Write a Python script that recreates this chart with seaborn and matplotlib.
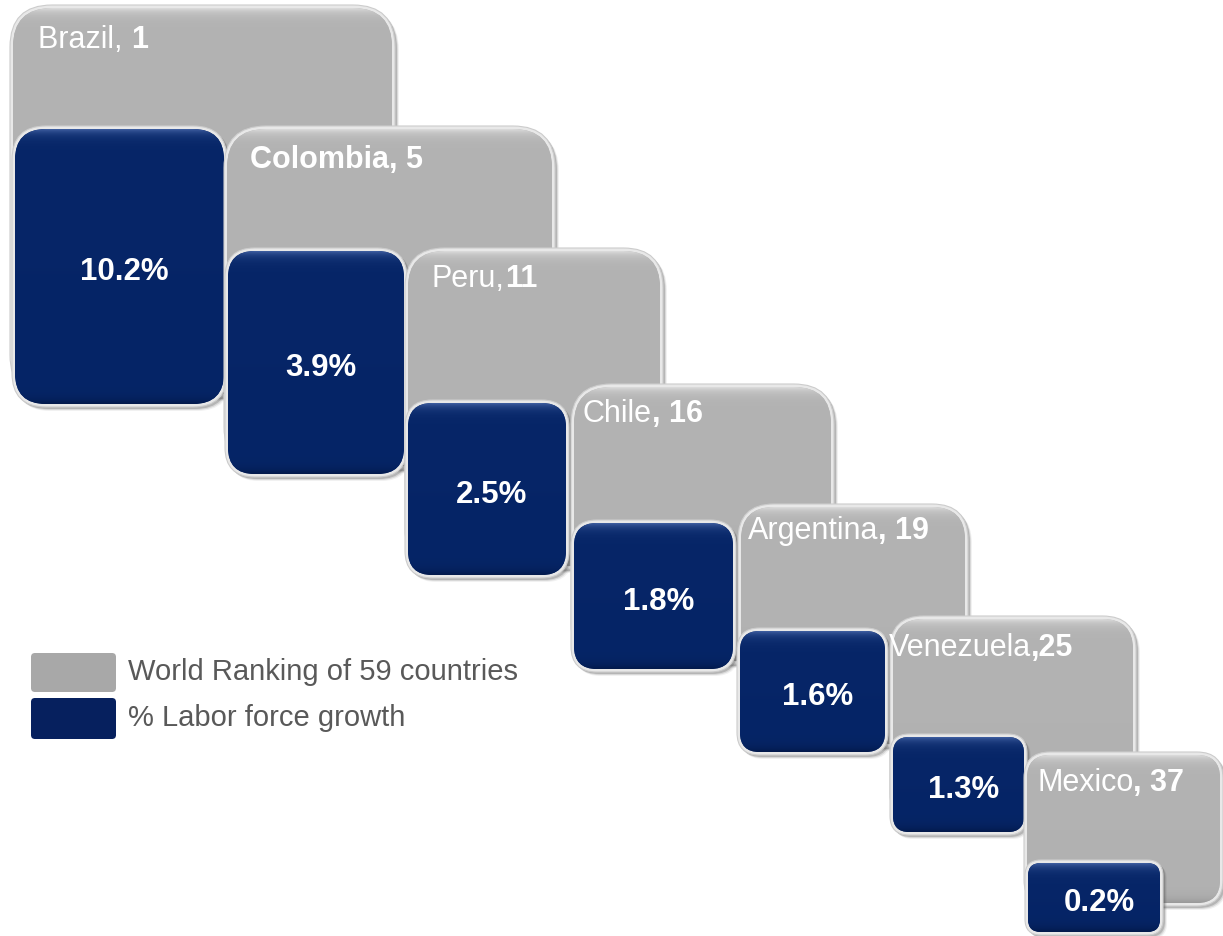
import numpy as np
import matplotlib
matplotlib.use("Agg")
import matplotlib.pyplot as plt
from matplotlib.patches import FancyBboxPatch
from matplotlib.colors import to_rgb
import seaborn as sns

# ---- data -------------------------------------------------------------
countries = ["Brazil", "Colombia", "Peru", "Chile", "Argentina", "Venezuela", "Mexico"]
world_rank = [1, 5, 11, 16, 19, 25, 37]
labor_growth = [10.2, 3.9, 2.5, 1.8, 1.6, 1.3, 0.2]

legend_labels = ["World Ranking of 59 countries", "% Labor force growth"]

# label styling: separator between name and rank, and which pieces are bold
separators = [", ", ", ", ",", ", ", ", ", ",", ", "]
name_bold = [False, True, False, False, False, False, False]
sep_bold = [False, True, False, True, True, True, True]

# ---- tile layout (canvas units: left, right, top, bottom) --------------
rank_left = [10, 224, 405, 571, 738, 890, 1024]
rank_right = [395, 555, 663, 834, 968, 1136, 1223]
rank_top = [6, 127, 249, 385, 505, 617, 753]
rank_bottom = [398, 470, 570, 665, 748, 828, 907]

growth_left = [12, 225, 405, 571, 737, 890, 1025]
growth_right = [227, 407, 569, 736, 888, 1027, 1163]
growth_top = [127, 249, 401, 521, 629, 735, 861]
growth_bottom = [408, 478, 579, 673, 756, 836, 936]

W, H = 1223, 937

sns.set_theme(style="white")
plt.rcParams["font.family"] = ["Liberation Sans", "DejaVu Sans"]

gray_pal = {"top": "#dadada", "mid": "#b2b2b2", "bot": "#9a9a9a"}
blue_pal = {"top": "#3c5c9e", "mid": "#062567", "bot": "#031a4c"}
rim_color = "#e8e8e8"
text_gray = "#595959"

fig = plt.figure(figsize=(W / 100, H / 100), dpi=100)
ax = fig.add_axes([0, 0, 1, 1])


def gradient(rows, pal):
    t = np.arange(rows, dtype=float)
    top, mid, bot = (np.array(to_rgb(pal[k])) for k in ("top", "mid", "bot"))
    wt = np.exp(-t / 5.0)[:, None]
    wb = np.exp(-(rows - 1 - t) / 5.0)[:, None]
    col = mid + (top - mid) * wt + (bot - mid) * wb
    return np.clip(col, 0, 1)[:, None, :]


def tile(x0, x1, y0, y1, pal, z):
    w, h = x1 - x0, y1 - y0
    r = float(np.clip(0.13 * min(w, h) + 6, 14, 42))
    style = f"round,pad=0,rounding_size={r}"
    # soft drop shadow to the lower right
    for k, a in ((4, 0.08), (3, 0.15), (2, 0.25)):
        ax.add_patch(FancyBboxPatch((x0 + k, y0 + k), w, h, boxstyle=style,
                                    fc=(0.3, 0.3, 0.3, a), ec="none", zorder=z))
    # light rim
    ax.add_patch(FancyBboxPatch((x0, y0), w, h, boxstyle=style,
                                fc=rim_color, ec="#cccccc", lw=0.8, zorder=z + 0.1))
    # body with vertical bevel gradient
    inset = 3
    rs = f"round,pad=0,rounding_size={r - inset}"
    body = FancyBboxPatch((x0 + inset, y0 + inset), w - 2 * inset, h - 2 * inset,
                          boxstyle=rs, fc=pal["mid"], ec="none", zorder=z + 0.2)
    ax.add_patch(body)
    im = ax.imshow(gradient(int(h - 2 * inset), pal),
                   extent=[x0 + inset, x1 - inset, y1 - inset, y0 + inset],
                   aspect="auto", interpolation="bilinear", zorder=z + 0.3)
    im.set_clip_path(body)


for i, name in enumerate(countries):
    z = 10 * i
    tile(rank_left[i], rank_right[i], rank_top[i], rank_bottom[i], gray_pal, z + 1)
    tile(growth_left[i], growth_right[i], growth_top[i], growth_bottom[i], blue_pal, z + 5)

    # value label on the growth tile
    cx = (growth_left[i] + growth_right[i]) / 2 + 5
    cy = (growth_top[i] + growth_bottom[i]) / 2 + 5
    ax.text(cx, cy, f"{labor_growth[i]:.1f}%", color="white", fontsize=22.5,
            fontweight="bold", ha="center", va="center", zorder=200)

# country / rank labels (regular part followed by bold part)
label_dx = [28, 26, 27, 12, 10, -1, 13]
label_dy = [34, 33, 30, 29, 26, 31, 30]
for i, name in enumerate(countries):
    regular, bold = "", ""
    if name_bold[i]:
        bold += name
    else:
        regular += name
    if sep_bold[i] or name_bold[i]:
        bold += separators[i]
    else:
        regular += separators[i]
    bold += str(world_rank[i])
    x = rank_left[i] + label_dx[i]
    y = rank_top[i] + label_dy[i]
    if regular:
        t1 = ax.text(x, y, regular, color="white", fontsize=22,
                     ha="left", va="center", zorder=210)
        ax.annotate(bold, xy=(1, 0), xycoords=t1, ha="left", va="bottom",
                    color="white", fontsize=22, fontweight="bold", zorder=210)
    else:
        ax.text(x, y, bold, color="white", fontsize=22, fontweight="bold",
                ha="left", va="center", zorder=210)

# legend
leg_colors = ["#a8a8a8", "#06205e"]
leg_top = [654, 699]
leg_bottom = [693, 740]
for lab, col, y0, y1 in zip(legend_labels, leg_colors, leg_top, leg_bottom):
    ax.add_patch(FancyBboxPatch((31, y0), 85, y1 - y0,
                                boxstyle="round,pad=0,rounding_size=4",
                                fc=col, ec="none", zorder=300))
    ax.text(128, (y0 + y1) / 2 - 1, lab, color=text_gray, fontsize=21,
            ha="left", va="center", zorder=300)

ax.set_xlim(0, W)
ax.set_ylim(H, 0)
ax.axis("off")
fig.savefig("out.png", dpi=100, facecolor="white")
